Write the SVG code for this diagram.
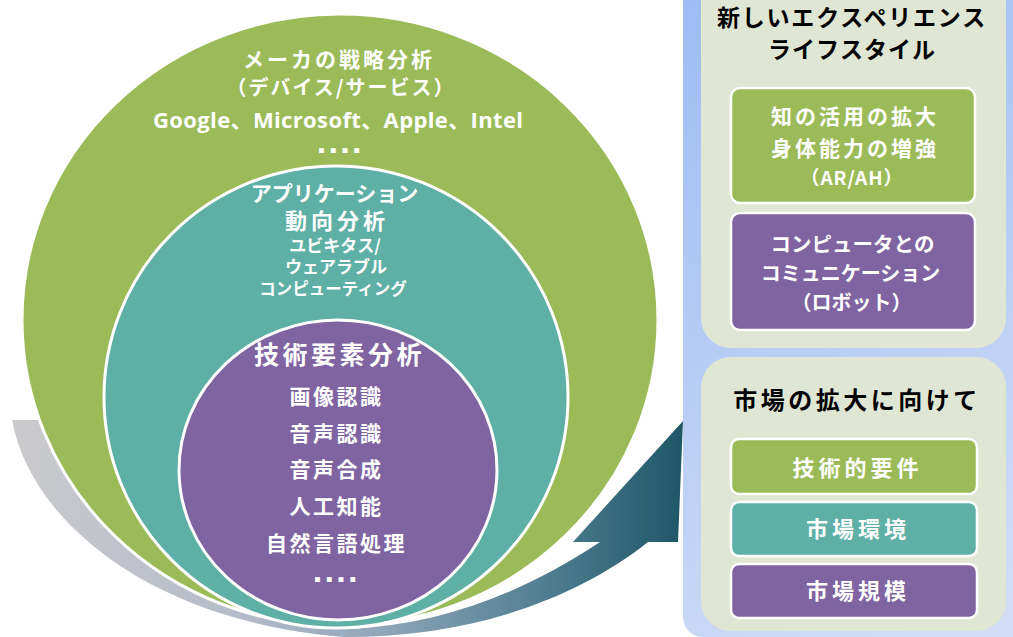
<svg xmlns="http://www.w3.org/2000/svg" width="1013" height="637" viewBox="0 0 1013 637">
<defs>
<linearGradient id="swoosh" gradientUnits="userSpaceOnUse" x1="10" y1="0" x2="683" y2="0">
<stop offset="0" stop-color="#cbcbcd"/>
<stop offset="0.35" stop-color="#b4bac8"/>
<stop offset="0.55" stop-color="#90a6b9"/>
<stop offset="0.8" stop-color="#4f7d90"/>
<stop offset="1" stop-color="#1f5767"/>
</linearGradient>
<linearGradient id="bluebg" gradientUnits="userSpaceOnUse" x1="683" y1="0" x2="1013" y2="637">
<stop offset="0" stop-color="#9ebcf3"/>
<stop offset="1" stop-color="#d3dff6"/>
</linearGradient>
<style>
.jp{font-family:"Noto Sans CJK JP","Noto Sans",sans-serif;font-weight:bold;text-anchor:middle}
.lat{font-family:"Open Sans","Noto Sans CJK JP",sans-serif;font-weight:bold;text-anchor:middle}
.dots{font-family:"Noto Sans CJK JP",sans-serif;text-anchor:middle;font-size:6px;letter-spacing:5.7px;fill:#fff}
.w{fill:#fff}
.k{fill:#000}
.ring{stroke:#fff;stroke-width:3}
.panel{fill:#dfe6d3}
.box{stroke:#fff;stroke-width:2.5}
</style>
</defs>
<rect width="1013" height="637" fill="#fff"/>

<g id="connectors">
<path d="M12,420 L60,420 L330,615 L352,629 C440,624 520,595 600,542 L573,542 L683,421 L678,542 L648,542 C575,600 470,637 345,637 C150,622 30,520 12,420 Z" fill="url(#swoosh)"/>
</g>

<g id="node-maker">
<ellipse cx="340" cy="320" rx="318" ry="306" fill="#9bbb59" class="ring"/>
<text class="jp w" x="339" y="66.5" font-size="21" letter-spacing="3">メーカの戦略分析</text>
<text class="jp w" x="341" y="95" font-size="20" letter-spacing="2">（デバイス/サービス）</text>
<text class="lat w" x="338" y="127.5" font-size="22" textLength="370" lengthAdjust="spacing">Google、Microsoft、Apple、Intel</text>
<text class="dots" x="342" y="152.5">■■■■</text>
</g>

<g id="node-app">
<ellipse cx="336" cy="397" rx="232" ry="231" fill="#5eafa6" class="ring"/>
<text class="jp w" x="334.5" y="201" font-size="21">アプリケーション</text>
<text class="jp w" x="337" y="228.5" font-size="22" letter-spacing="4">動向分析</text>
<text class="jp w" x="335" y="252" font-size="17">ユビキタス/</text>
<text class="jp w" x="336" y="273" font-size="17">ウェアラブル</text>
<text class="jp w" x="333" y="294.5" font-size="16.5">コンピューティング</text>
</g>

<g id="node-tech">
<ellipse cx="338" cy="470" rx="159" ry="150" fill="#8064a2" class="ring"/>
<text class="jp w" x="339.5" y="363.5" font-size="25" letter-spacing="3.5">技術要素分析</text>
<text class="jp w" x="336.5" y="404" font-size="21" letter-spacing="2.5">画像認識</text>
<text class="jp w" x="336.5" y="440.5" font-size="21" letter-spacing="2.5">音声認識</text>
<text class="jp w" x="336.5" y="477" font-size="21" letter-spacing="2.5">音声合成</text>
<text class="jp w" x="336.5" y="513.5" font-size="21" letter-spacing="2.5">人工知能</text>
<text class="jp w" x="336.5" y="550.5" font-size="21" letter-spacing="2.5">自然言語処理</text>
<text class="dots" x="338" y="581.5">■■■■</text>
</g>

<g id="node-background">
<rect x="683" y="-30" width="360" height="667" rx="20" fill="url(#bluebg)"/>
</g>

<g id="node-experience">
<rect x="701" y="-30" width="305" height="378" rx="30" class="panel"/>
<text class="jp k" x="852" y="26" font-size="23" letter-spacing="1.8">新しいエクスペリエンス</text>
<text class="jp k" x="852" y="58" font-size="23" letter-spacing="1">ライフスタイル</text>
</g>

<g id="node-ar">
<rect x="731" y="88" width="244" height="115" rx="9" fill="#9bbb59" class="box"/>
<text class="jp w" x="855" y="124" font-size="21" letter-spacing="3">知の活用の拡大</text>
<text class="jp w" x="855" y="155.5" font-size="21" letter-spacing="3">身体能力の増強</text>
<text class="jp w" x="852" y="185" font-size="19" letter-spacing="1">（AR/AH）</text>
</g>

<g id="node-robot">
<rect x="731" y="213" width="244" height="117" rx="9" fill="#8064a2" class="box"/>
<text class="jp w" x="852.5" y="252" font-size="20.5">コンピュータとの</text>
<text class="jp w" x="850.5" y="281" font-size="20">コミュニケーション</text>
<text class="jp w" x="851.5" y="310" font-size="20">（ロボット）</text>
</g>

<g id="node-market">
<rect x="701" y="357" width="305" height="274" rx="30" class="panel"/>
<text class="jp k" x="857" y="408.5" font-size="24" letter-spacing="3.5">市場の拡大に向けて</text>
</g>

<g id="node-req">
<rect x="731" y="439" width="246" height="55" rx="8" fill="#9bbb59" class="box"/>
<text class="jp w" x="857.5" y="475.5" font-size="22" letter-spacing="4">技術的要件</text>
</g>

<g id="node-env">
<rect x="731" y="502" width="246" height="54" rx="8" fill="#5eafa6" class="box"/>
<text class="jp w" x="858" y="536.5" font-size="22" letter-spacing="4">市場環境</text>
</g>

<g id="node-scale">
<rect x="731" y="564" width="246" height="54" rx="8" fill="#8064a2" class="box"/>
<text class="jp w" x="858" y="598.5" font-size="22" letter-spacing="4">市場規模</text>
</g>
</svg>
